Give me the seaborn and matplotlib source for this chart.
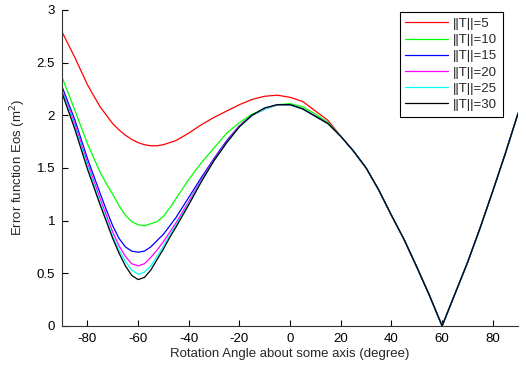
import numpy as np
import pandas as pd
import seaborn as sns
import matplotlib.pyplot as plt
from matplotlib.ticker import FuncFormatter

# finer sampling around the minimum near -60 degrees
angles = ([-90, -85, -80]
          + list(np.arange(-75, -44, 2.5))
          + list(range(-40, 95, 5)))

# shared part of every curve from 20 to 90 degrees
tail = [1.80, 1.66, 1.50, 1.29, 1.05, 0.82, 0.56, 0.29, 0.00,
        0.30, 0.60, 0.93, 1.28, 1.64, 2.02]

eos_t5 = ([2.79, 2.55, 2.29,
           2.08, 2.00, 1.92, 1.86, 1.81, 1.77, 1.74, 1.72, 1.71, 1.71, 1.72, 1.74, 1.76,
           1.83, 1.91, 1.98, 2.04, 2.10, 2.15, 2.18, 2.19, 2.17, 2.13, 2.04, 1.95] + tail)
eos_t10 = ([2.36, 2.05, 1.73,
            1.46, 1.35, 1.25, 1.14, 1.05, 0.99, 0.96, 0.95, 0.97, 0.99, 1.04, 1.12, 1.21,
            1.39, 1.55, 1.69, 1.83, 1.93, 2.01, 2.06, 2.10, 2.11, 2.08, 2.01, 1.93] + tail)
eos_t15 = ([2.27, 1.96, 1.59,
            1.26, 1.10, 0.95, 0.83, 0.75, 0.71, 0.70, 0.71, 0.75, 0.81, 0.87, 0.95, 1.03,
            1.22, 1.41, 1.59, 1.76, 1.90, 2.00, 2.06, 2.10, 2.10, 2.06, 1.99, 1.92] + tail)
eos_t20 = ([2.24, 1.92, 1.55,
            1.21, 1.05, 0.89, 0.76, 0.66, 0.59, 0.57, 0.59, 0.65, 0.72, 0.80, 0.89, 0.98,
            1.18, 1.39, 1.58, 1.75, 1.90, 2.00, 2.06, 2.10, 2.10, 2.06, 1.99, 1.92] + tail)
eos_t25 = ([2.23, 1.89, 1.52,
            1.17, 1.01, 0.85, 0.72, 0.61, 0.53, 0.49, 0.51, 0.57, 0.66, 0.76, 0.86, 0.96,
            1.16, 1.38, 1.57, 1.74, 1.89, 2.00, 2.06, 2.10, 2.10, 2.06, 1.99, 1.92] + tail)
eos_t30 = ([2.21, 1.87, 1.49,
            1.15, 0.99, 0.83, 0.69, 0.57, 0.48, 0.44, 0.46, 0.53, 0.63, 0.73, 0.84, 0.94,
            1.15, 1.37, 1.57, 1.74, 1.89, 2.00, 2.07, 2.10, 2.10, 2.06, 1.99, 1.92] + tail)

labels = ['||T||=5', '||T||=10', '||T||=15', '||T||=20', '||T||=25', '||T||=30']
colors = ['#ff0000', '#00ff00', '#0000ff', '#ff00ff', '#00ffff', '#000000']
series = [eos_t5, eos_t10, eos_t15, eos_t20, eos_t25, eos_t30]

frames = []
for lab, vals in zip(labels, series):
    frames.append(pd.DataFrame({'angle': angles, 'eos': vals, 'norm': lab}))
df = pd.concat(frames, ignore_index=True)

sns.set_style('ticks')
plt.rcParams['font.family'] = ['Liberation Sans', 'DejaVu Sans']
plt.rcParams['axes.unicode_minus'] = False

fig = plt.figure(figsize=(5.26, 3.65), dpi=100)
ax = fig.add_axes([0.118, 0.107, 0.867, 0.866])

sns.lineplot(data=df, x='angle', y='eos', hue='norm', hue_order=labels,
             palette=dict(zip(labels, colors)), linewidth=0.9, ax=ax)

ax.set_xlim(-90, 90)
ax.set_ylim(0, 3)
ax.set_xticks(range(-80, 90, 20))
ax.set_yticks(np.arange(0, 3.01, 0.5))
ax.yaxis.set_major_formatter(FuncFormatter(lambda v, p: f'{v:g}'))
ax.tick_params(direction='in', length=4, width=0.8, labelsize=9.5, colors='black', pad=5)
for side in ['top', 'right']:
    ax.spines[side].set_visible(False)
for side in ['left', 'bottom']:
    ax.spines[side].set_linewidth(0.8)
    ax.spines[side].set_color('#333333')

ax.set_xlabel('Rotation Angle about some axis (degree)', fontsize=9.5, labelpad=2)
ax.set_ylabel('Error function Eos (m$^2$)', fontsize=9.5, labelpad=6)

handles, labs = ax.get_legend_handles_labels()
leg = ax.legend(handles, labs, loc='upper right', bbox_to_anchor=(0.967, 0.994),
                fontsize=9.5, handlelength=3.2, fancybox=False, framealpha=1,
                edgecolor='black', borderaxespad=0, labelspacing=0.3,
                handletextpad=0.4, borderpad=0.45)
leg.get_frame().set_linewidth(0.8)

fig.savefig('out.png', dpi=100)
